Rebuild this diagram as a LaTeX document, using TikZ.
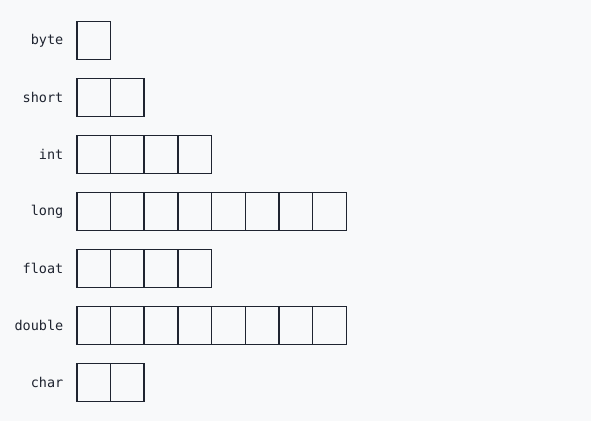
\documentclass[tikz,border=0pt]{standalone}
\usepackage{fontspec}
\setmonofont{DejaVu Sans Mono}
\definecolor{bg}{HTML}{F8F9FA}
\definecolor{ink}{HTML}{1F2430}
\begin{document}
\begin{tikzpicture}[x=1pt,y=-1pt,
  cell/.style={draw=ink,line width=1.5pt,minimum width=33.7pt,minimum height=38pt,inner sep=0pt,anchor=north west},
  lab/.style={anchor=east,inner sep=0pt,text=ink,font=\ttfamily\fontsize{13.5}{15}\selectfont}]
\fill[bg] (0,0) rectangle (591,421);
\useasboundingbox (0,0) rectangle (591,421);
\foreach \name/\n [count=\r from 0] in {byte/1,short/2,int/4,long/8,float/4,double/8,char/2}{
  \pgfmathsetmacro{\yy}{20.7+57*\r}
  \node[lab] (lab\r) at (63.5,\yy+20) {\name};
  \foreach \c in {1,...,\n}{
    \node[cell] (c\r-\c) at ({76+33.7*(\c-1)},\yy) {};
  }
}
\end{tikzpicture}
\end{document}
